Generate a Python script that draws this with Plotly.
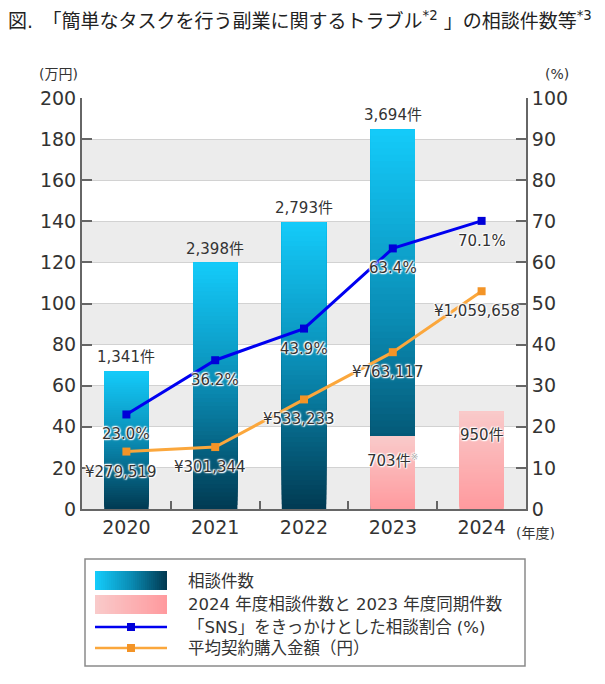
import plotly.graph_objects as go

# ---------------- data ----------------
years = ["2020", "2021", "2022", "2023", "2024"]
consult_counts = [1341, 2398, 2793, 3694, None]          # 相談件数
same_period_counts = [None, None, None, 703, 950]        # 2024年度相談件数と2023年度同期件数
sns_ratio = [23.0, 36.2, 43.9, 63.4, 70.1]               # 「SNS」をきっかけとした相談割合(%)
avg_amount_yen = [279519, 301344, 533233, 763117, 1059658]  # 平均契約購入金額(円)
left_ticks = list(range(0, 201, 20))
right_ticks = list(range(0, 101, 10))

avg_amount_man = [v / 10000 for v in avg_amount_yen]

# ---------------- style ----------------
OFF = 8                      # page body margin
W, H = 605 - OFF, 684 - OFF
ML, MT = 82 - OFF, 98 - OFF
PW, PH = 444, 411
MR, MB = W - ML - PW, H - MT - PH
FONT = "DejaVu Sans, Noto Sans CJK JP, sans-serif"
TXT = "#333333"
HALO = "0 0 2px #fff, 0 0 2px #fff, 0 0 3px #fff, 1px 1px 1px #fff, -1px -1px 1px #fff"

BLUE_BOT, BLUE_MID, BLUE_TOP = (1, 58, 82), (10, 140, 180), (20, 203, 250)
PINK_BOT, PINK_TOP = (255, 154, 158), (249, 202, 202)


def lerp(c0, c1, t):
    return tuple(round(a + (b - a) * t) for a, b in zip(c0, c1))


def blue_at(t):
    if t < 0.5:
        return lerp(BLUE_BOT, BLUE_MID, t / 0.5)
    return lerp(BLUE_MID, BLUE_TOP, (t - 0.5) / 0.5)


def rgb(c):
    return "rgb(%d,%d,%d)" % c


def px_x(p):
    return (p - OFF - ML) / PW


def px_y(p):
    return (MT + PH - (p - OFF)) / PH


fig = go.Figure()

# gradient bars: overlapping layers, each from its base up to the full value
N = 60
for i in range(N):
    t = (i + 0.5) / N
    fig.add_trace(go.Bar(
        x=years,
        y=[None if v is None else v * (N - i) / N for v in consult_counts],
        base=[None if v is None else v * i / N for v in consult_counts],
        marker=dict(color=rgb(blue_at(t)), line=dict(width=0)),
        yaxis="y", showlegend=False, hoverinfo="skip"))
for i in range(N):
    t = (i + 0.5) / N
    fig.add_trace(go.Bar(
        x=years,
        y=[None if v is None else v * (N - i) / N for v in same_period_counts],
        base=[None if v is None else v * i / N for v in same_period_counts],
        marker=dict(color=rgb(lerp(PINK_BOT, PINK_TOP, t)), line=dict(width=0)),
        yaxis="y", showlegend=False, hoverinfo="skip"))

# lines
fig.add_trace(go.Scatter(
    x=years, y=avg_amount_man, yaxis="y2", mode="lines+markers",
    line=dict(color="#fba73c", width=3),
    marker=dict(symbol="square", size=8, color="#f39427"),
    showlegend=False, hoverinfo="skip"))
fig.add_trace(go.Scatter(
    x=years, y=sns_ratio, yaxis="y3", mode="lines+markers",
    line=dict(color="#0000f0", width=3),
    marker=dict(symbol="square", size=8, color="#0000d8"),
    showlegend=False, hoverinfo="skip"))

annotations = []
lab_font = dict(family=FONT, size=15, color=TXT, shadow=HALO)

# count labels (category axis -> positions by category index)
for idx, v in enumerate(consult_counts):
    if v is None:
        continue
    annotations.append(dict(x=idx, y=v, xref="x", yref="y", text=f"{v:,}件",
                            showarrow=False, yanchor="bottom", yshift=3,
                            font=dict(family=FONT, size=15, color=TXT)))
for idx, v in enumerate(same_period_counts):
    if v is None:
        continue
    txt = f"{v:,}件"
    if years[idx] == "2023":
        txt += "<sup><span style='color:#aaaaaa;font-size:9px'>※</span></sup>"
    annotations.append(dict(x=idx, y=v, xref="x", yref="y", text=txt,
                            showarrow=False, yanchor="top", yshift=-13,
                            font=lab_font))
# line labels
for idx, v in enumerate(sns_ratio):
    annotations.append(dict(x=idx, y=v, xref="x", yref="y3", text=f"{v:.1f}%",
                            showarrow=False, yanchor="middle", yshift=-20,
                            font=lab_font))
for idx, (v, yen) in enumerate(zip(avg_amount_man, avg_amount_yen)):
    annotations.append(dict(x=idx, y=v, xref="x", yref="y2", text=f"¥{yen:,}",
                            showarrow=False, yanchor="middle", yshift=-20, xshift=-5,
                            font=lab_font))

# axis unit labels
unit_font = dict(family=FONT, size=14, color=TXT)
for txt, cx, cy in [("(万円)", 58, 74), ("(%)", 557, 74), ("(年度)", 535, 533)]:
    annotations.append(dict(x=px_x(cx), y=px_y(cy), xref="paper", yref="paper", text=txt,
                            xanchor="center", yanchor="middle", showarrow=False,
                            font=unit_font))

# title
annotations.append(dict(
    x=px_x(6), y=px_y(20), xref="paper", yref="paper", xanchor="left", yanchor="middle",
    text="図.　「簡単なタスクを行う副業に関するトラブル<sup>*2</sup> 」の相談件数等<sup>*3</sup>",
    showarrow=False, font=dict(family=FONT, size=19, color="#222222")))

shapes = []
# alternating bands
for k, t0 in enumerate(left_ticks[:-1]):
    if k % 2 == 0:
        shapes.append(dict(type="rect", xref="paper", yref="y2", x0=0, x1=1,
                           y0=t0, y1=left_ticks[k + 1], fillcolor="#ececec",
                           line=dict(width=0), layer="below"))

# custom legend
shapes.append(dict(type="rect", xref="paper", yref="paper",
                   x0=px_x(85), x1=px_x(525), y0=px_y(559), y1=px_y(666),
                   line=dict(color="#8a8a8a", width=1.5), fillcolor="white"))
SW0, SW1 = 95, 167
M = 36
for j in range(M):
    t = j / (M - 1)
    xa = SW0 + (SW1 - SW0) * j / M
    xb = SW0 + (SW1 - SW0) * (j + 1) / M + 0.6
    shapes.append(dict(type="rect", xref="paper", yref="paper",
                       x0=px_x(xa), x1=px_x(min(xb, SW1)), y0=px_y(571), y1=px_y(590),
                       fillcolor=rgb(blue_at(1 - t)), line=dict(width=0)))
    shapes.append(dict(type="rect", xref="paper", yref="paper",
                       x0=px_x(xa), x1=px_x(min(xb, SW1)), y0=px_y(595), y1=px_y(614),
                       fillcolor=rgb(lerp(PINK_TOP, PINK_BOT, t)), line=dict(width=0)))
for yy, lc, mc in [(627, "#0000f0", "#0000d8"), (648, "#fba73c", "#f39427")]:
    shapes.append(dict(type="line", xref="paper", yref="paper",
                       x0=px_x(SW0), x1=px_x(SW1), y0=px_y(yy), y1=px_y(yy),
                       line=dict(color=lc, width=2.5)))
    shapes.append(dict(type="rect", xref="paper", yref="paper",
                       x0=px_x(127), x1=px_x(135), y0=px_y(yy - 4), y1=px_y(yy + 4),
                       fillcolor=mc, line=dict(width=0)))
legend_texts = ["相談件数", "2024 年度相談件数と 2023 年度同期件数",
                "「SNS」をきっかけとした相談割合 (%)", "平均契約購入金額（円）"]
for txt, yy in zip(legend_texts, [581, 604, 627, 648]):
    annotations.append(dict(x=px_x(186), y=px_y(yy), xref="paper", yref="paper",
                            xanchor="left", yanchor="middle", text=txt, showarrow=False,
                            font=dict(family=FONT, size=16.5, color=TXT)))

axis_line = dict(showline=True, linecolor="#666666", linewidth=2)
fig.update_layout(
    width=W, height=H,
    margin=dict(l=ML, r=MR, t=MT, b=MB),
    plot_bgcolor="white", paper_bgcolor="white",
    barmode="overlay", bargap=0.5,
    font=dict(family=FONT, color=TXT),
    showlegend=False,
    xaxis=dict(type="category", range=[-0.5, 4.5], ticks="inside", tickson="boundaries",
               ticklen=8, tickcolor="#666666", tickwidth=1.5,
               tickfont=dict(size=19, color=TXT), showgrid=False, fixedrange=True,
               **axis_line),
    yaxis=dict(range=[0, 4000], visible=False, fixedrange=True),
    yaxis2=dict(overlaying="y", side="left", anchor="x", range=[0, 200],
                tickvals=left_ticks, ticks="inside", ticklen=10, tickcolor="#666666",
                tickwidth=1.5, tickfont=dict(size=19, color=TXT),
                showgrid=True, gridcolor="#d2d2d2", gridwidth=1, zeroline=False,
                **axis_line),
    yaxis3=dict(overlaying="y", side="right", anchor="x", range=[0, 100],
                tickvals=right_ticks, ticks="inside", ticklen=10, tickcolor="#666666",
                tickwidth=1.5, tickfont=dict(size=19, color=TXT),
                showgrid=False, zeroline=False, **axis_line),
    shapes=shapes,
    annotations=annotations,
)

fig.write_html("out.html")
